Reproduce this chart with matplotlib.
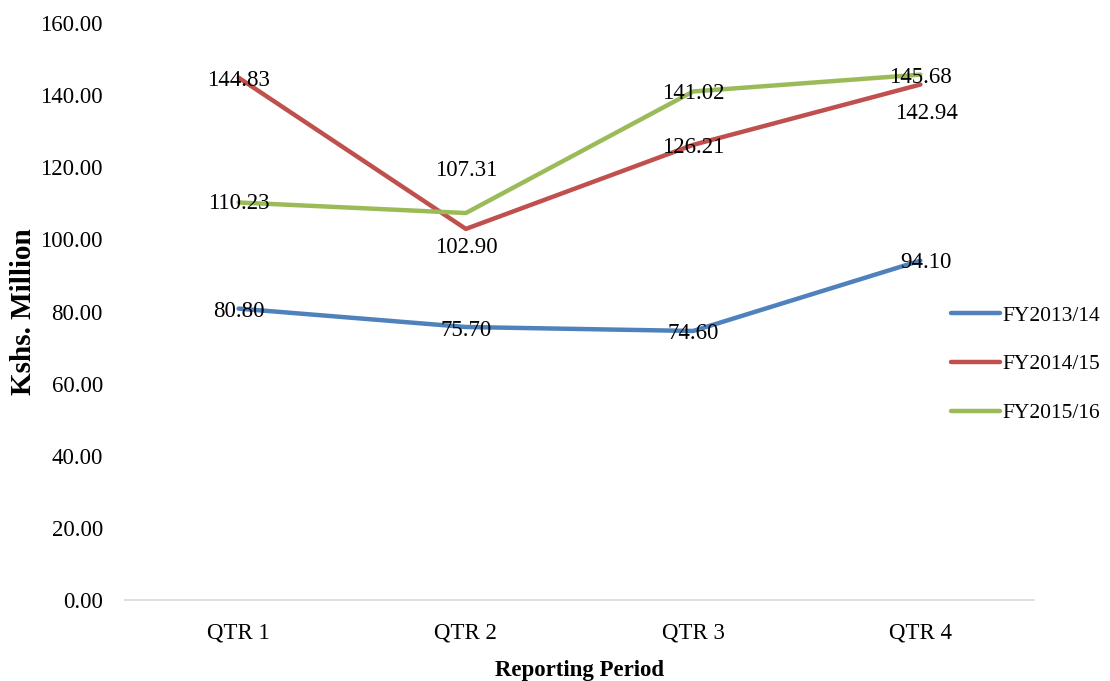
import matplotlib
matplotlib.use("Agg")
import matplotlib.pyplot as plt

categories = ["QTR 1", "QTR 2", "QTR 3", "QTR 4"]
series_names = ["FY2013/14", "FY2014/15", "FY2015/16"]
fy2013_14 = [80.80, 75.70, 74.60, 94.10]
fy2014_15 = [144.83, 102.90, 126.21, 142.94]
fy2015_16 = [110.23, 107.31, 141.02, 145.68]
yticks = [0, 20, 40, 60, 80, 100, 120, 140, 160]

colors = ["#4F81BD", "#C0504D", "#9BBB59"]
# label offsets in pixels (dx, dy) per series per point
offsets = [
    [(0, -3), (0, -3), (0, -3), (6, -2)],
    [(0, -3), (0, -19), (0, -3), (6, -29)],
    [(0, -1), (0, 43), (0, -2), (0, -3)],
]

plt.rcParams['font.family'] = ['Liberation Serif', 'DejaVu Serif']
FS = 16.5

fig = plt.figure(figsize=(11.10, 6.81), dpi=100)
ax = fig.add_axes([125/1110, 81/681, (1034-125)/1110, (600-23)/681])

x = list(range(len(categories)))
all_series = [fy2013_14, fy2014_15, fy2015_16]
for vals, name, c in zip(all_series, series_names, colors):
    ax.plot(x, vals, color=c, lw=3.2, label=name, solid_capstyle='round')
for vals, offs in zip(all_series, offsets):
    for xi, v, (dx, dy) in zip(x, vals, offs):
        ax.annotate(f"{v:.2f}", (xi, v), xytext=(dx, dy), textcoords='offset pixels',
                    ha='center', va='center', fontsize=FS, color='black')

ax.set_xlim(-0.5, 3.5)
ax.set_ylim(0, 160)
ax.set_yticks(yticks)
ax.set_yticklabels([f"{t:.2f}" for t in yticks], fontsize=FS)
ax.set_xticks(x)
ax.set_xticklabels(categories, fontsize=FS)
ax.tick_params(axis='x', length=0, pad=16)
ax.tick_params(axis='y', length=0, pad=16)
for s in ['top', 'right', 'left']:
    ax.spines[s].set_visible(False)
ax.spines['bottom'].set_color('#D9D9D9')
ax.spines['bottom'].set_linewidth(1.2)

ax.set_ylabel("Kshs. Million", fontsize=21, fontweight='bold', labelpad=2)
ax.set_xlabel("Reporting Period", fontsize=FS, fontweight='bold', labelpad=12)

ax.legend(loc='upper left', bbox_to_anchor=(942/1110, 1 - 297/681), bbox_transform=fig.transFigure,
          frameon=False, fontsize=15.5, handlelength=2.3, handletextpad=0.12, labelspacing=1.33,
          borderaxespad=0)

fig.savefig("out.png", dpi=100)
